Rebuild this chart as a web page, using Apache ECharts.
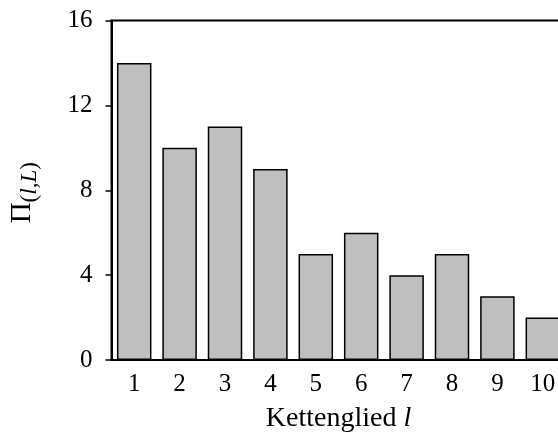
<!DOCTYPE html>
<html>
<head>
<meta charset="utf-8">
<script src="https://cdn.jsdelivr.net/npm/echarts@6/dist/echarts.min.js"></script>
<style>
  html, body { margin: 0; padding: 0; background: #fff; overflow: hidden; }
  /* the plot runs past the right edge of the picture, so the canvas is wider than the window */
  #chart { width: 572px; height: 438px; }
</style>
</head>
<body>
<div id="chart"></div>
<script>
// Kettenglied l (categories) and Pi(l,L) values
var glieder = ['1', '2', '3', '4', '5', '6', '7', '8', '9', '10'];
var werte = [14, 10, 11, 9, 5, 6, 4, 5, 3, 2];
var yTicks = [0, 4, 8, 12, 16];

var serif = '"Liberation Serif", "DejaVu Serif", serif';

var myChart = echarts.init(document.getElementById('chart'));

var option = {
    animation: false,
    grid: {
        left: 111.5,
        top: 20.5,
        width: 454,
        height: 340.5,
        show: true,
        borderColor: '#000',
        borderWidth: 2,
        backgroundColor: 'transparent'
    },
    xAxis: {
        type: 'category',
        data: glieder,
        name: 'Kettenglied {i|l}',
        nameLocation: 'middle',
        nameGap: 45,
        nameTextStyle: {
            fontFamily: serif,
            fontSize: 28,
            color: '#000',
            rich: {
                i: { fontFamily: serif, fontSize: 28, fontStyle: 'italic', color: '#000' }
            }
        },
        axisLine: { lineStyle: { color: '#000', width: 2 } },
        axisTick: { alignWithLabel: true, length: 6, lineStyle: { color: '#000', width: 1.5 } },
        axisLabel: { fontFamily: serif, fontSize: 25, color: '#000', margin: 12 }
    },
    yAxis: {
        type: 'value',
        min: yTicks[0],
        max: yTicks[yTicks.length - 1],
        interval: 4,
        name: '{a|Π}{s|(}{i|l,L}{e|)}',
        nameLocation: 'middle',
        nameRotate: 90,
        nameGap: 70,
        nameTextStyle: {
            color: '#000',
            rich: {
                a: { fontFamily: serif, fontSize: 29, lineHeight: 38, color: '#000' },
                s: { fontFamily: serif, fontSize: 23, lineHeight: 22, verticalAlign: 'bottom', color: '#000' },
                i: { fontFamily: serif, fontSize: 23, lineHeight: 22, verticalAlign: 'bottom', fontStyle: 'italic', color: '#000' },
                e: { fontFamily: serif, fontSize: 23, lineHeight: 22, verticalAlign: 'bottom', color: '#000', padding: [0, 5, 0, 0] }
            }
        },
        splitLine: { show: false },
        axisLine: { show: true, lineStyle: { color: '#000', width: 2 } },
        axisTick: { show: true, length: 6, lineStyle: { color: '#000', width: 1.5 } },
        axisLabel: { fontFamily: serif, fontSize: 25, color: '#000', margin: 19 }
    },
    series: [{
        type: 'bar',
        data: werte,
        barWidth: '76%',
        itemStyle: {
            color: '#bfbfbf',
            borderColor: '#000',
            borderWidth: 1.5
        }
    }]
};

myChart.setOption(option);
</script>
</body>
</html>
